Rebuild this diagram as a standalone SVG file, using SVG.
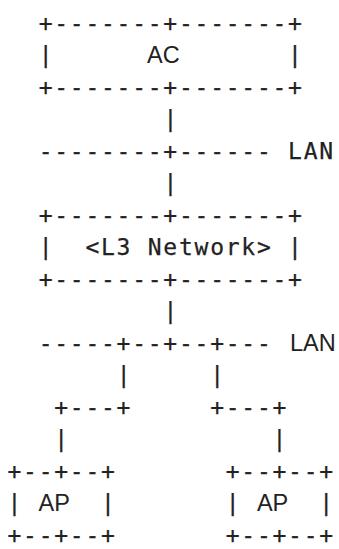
<svg xmlns="http://www.w3.org/2000/svg" width="339" height="549" viewBox="0 0 339 549">
  <style>
    .m { font-family: "DejaVu Sans Mono", "Liberation Mono", monospace; font-size: 23px; letter-spacing: 1.74px; fill: #222; stroke: #222; stroke-width: 0.25px; }
    .s { font-family: "Liberation Sans", Arial, sans-serif; font-size: 23.5px; fill: #222; }
    .c { text-anchor: middle; }
  </style>
  <rect width="339" height="549" fill="#fff"/>

  <!-- AC controller box -->
  <g id="ac">
    <text class="m" x="38.68" y="30.5">+-------+-------+</text>
    <text class="m" x="38.68" y="62.55">|</text>
    <text class="m" x="288.12" y="62.55">|</text>
    <text class="s c" x="163.4" y="62.55">AC</text>
    <text class="m" x="38.68" y="94.6">+-------+-------+</text>
  </g>

  <!-- L3 network box -->
  <g id="l3net">
    <text class="m" x="38.68" y="222.8">+-------+-------+</text>
    <text class="m" x="38.68" y="254.85" xml:space="preserve">|  &lt;L3 Network&gt; |</text>
    <text class="m" x="38.68" y="286.9">+-------+-------+</text>
  </g>

  <!-- access point, left -->
  <g id="ap1">
    <text class="m" x="7.5" y="479.2">+--+--+</text>
    <text class="m" x="7.5" y="511.25">|</text>
    <text class="m" x="101.04" y="511.25">|</text>
    <text class="s c" x="54.3" y="511.25">AP</text>
    <text class="m" x="7.5" y="543.3">+--+--+</text>
  </g>

  <!-- access point, right -->
  <g id="ap2">
    <text class="m" x="225.76" y="479.2">+--+--+</text>
    <text class="m" x="225.76" y="511.25">|</text>
    <text class="m" x="319.3" y="511.25">|</text>
    <text class="s c" x="272.6" y="511.25">AP</text>
    <text class="m" x="225.76" y="543.3">+--+--+</text>
  </g>

  <!-- LAN segments and drops -->
  <g id="connectors">
    <text class="m" x="163.4" y="126.65">|</text>
    <text class="m" x="38.68" y="158.7" xml:space="preserve">--------+------ LAN</text>
    <text class="m" x="163.4" y="190.75">|</text>
    <text class="m" x="163.4" y="318.95">|</text>
    <text class="m" x="38.68" y="351">-----+--+--+---</text>
    <text class="s" x="290" y="351">LAN</text>
    <text class="m" x="116.63" y="383.05">|</text>
    <text class="m" x="210.17" y="383.05">|</text>
    <text class="m" x="54.27" y="415.1">+---+</text>
    <text class="m" x="210.17" y="415.1">+---+</text>
    <text class="m" x="54.27" y="447.15">|</text>
    <text class="m" x="272.53" y="447.15">|</text>
  </g>
</svg>
